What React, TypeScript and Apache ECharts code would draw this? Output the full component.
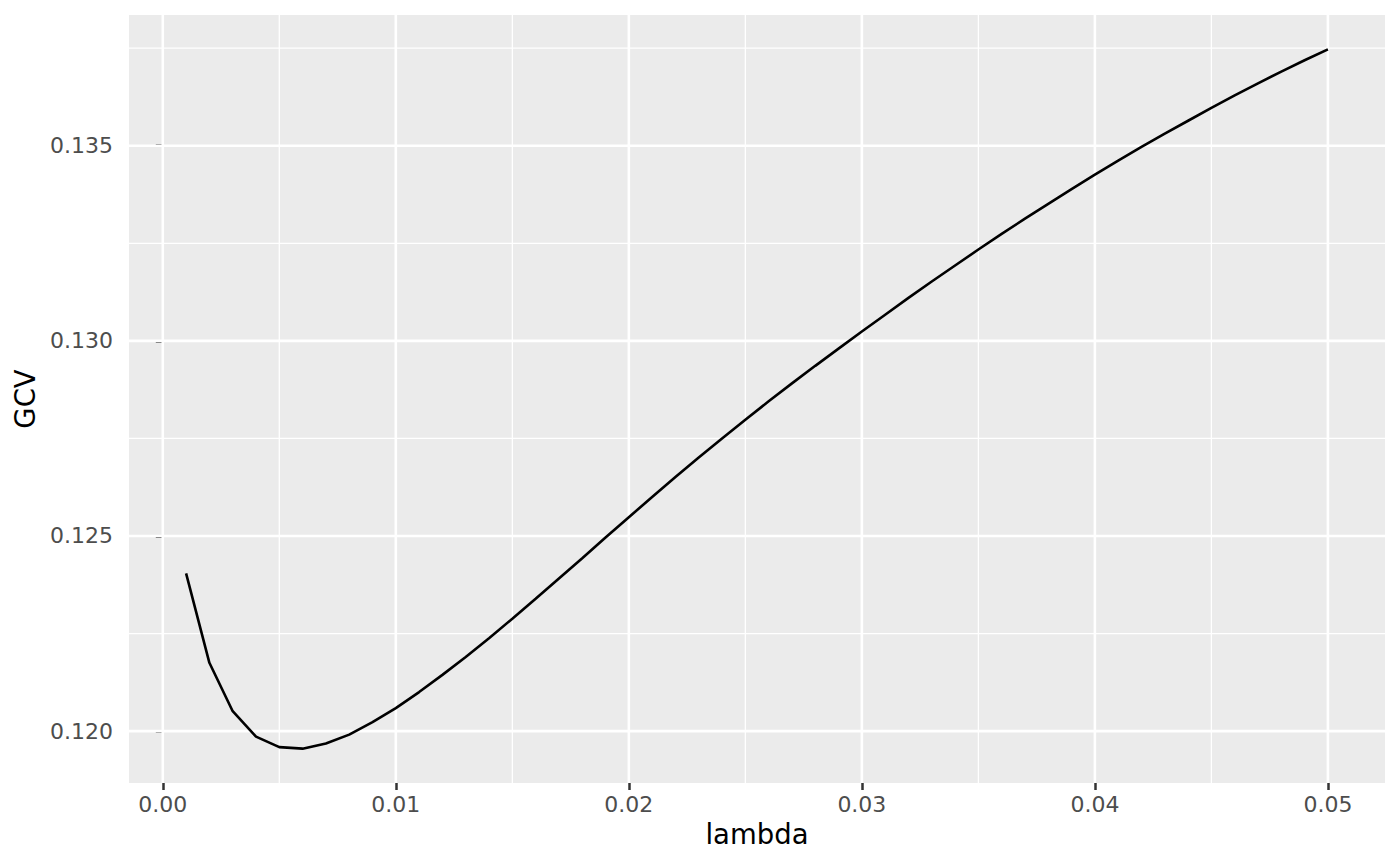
import React, { useEffect, useRef } from "react";
import * as echarts from "echarts";

// GCV score for each smoothing parameter lambda
const lambdas = [
  0.001, 0.002, 0.003, 0.004, 0.005, 0.006, 0.007, 0.008, 0.009, 0.01,
  0.011, 0.012, 0.013, 0.014, 0.015, 0.016, 0.017, 0.018, 0.019, 0.02,
  0.021, 0.022, 0.023, 0.024, 0.025, 0.026, 0.027, 0.028, 0.029, 0.03,
  0.031, 0.032, 0.033, 0.034, 0.035, 0.036, 0.037, 0.038, 0.039, 0.04,
  0.041, 0.042, 0.043, 0.044, 0.045, 0.046, 0.047, 0.048, 0.049, 0.05,
];
const gcv = [
  0.12404, 0.12175, 0.12051, 0.11986, 0.11959, 0.11955, 0.11968, 0.11991, 0.12023, 0.12059,
  0.121, 0.12144, 0.1219, 0.12238, 0.12288, 0.12339, 0.12391, 0.12443, 0.12496, 0.12548,
  0.126, 0.12651, 0.12701, 0.1275, 0.12798, 0.12845, 0.12891, 0.12936, 0.1298, 0.13024,
  0.13067, 0.1311, 0.13152, 0.13193, 0.13234, 0.13274, 0.13313, 0.13351, 0.13389, 0.13426,
  0.13462, 0.13497, 0.13531, 0.13564, 0.13597, 0.13629, 0.1366, 0.1369, 0.13719, 0.13747,
];

const xTicks = [0, 0.01, 0.02, 0.03, 0.04, 0.05];
const xMinor = [0.005, 0.015, 0.025, 0.035, 0.045];
const yTicks = [0.12, 0.125, 0.13, 0.135];
const yMinor = [0.1225, 0.1275, 0.1325, 0.1375];

const X_MIN = -0.00145;
const X_MAX = 0.05245;
const Y_MIN = 0.11867;
const Y_MAX = 0.13835;

const FONT = "DejaVu Sans";

export default function App() {
  const ref = useRef<HTMLDivElement>(null);

  useEffect(() => {
    if (!ref.current) return;
    const chart = echarts.init(ref.current, null, { renderer: "svg" });

    // each panel grid line is a 2-point line series on the axes' scales
    const gridSeries = (data: number[][], width: number, z: number) => ({
      type: "line",
      data,
      z,
      silent: true,
      showSymbol: false,
      symbol: "none",
      lineStyle: { color: "#FFFFFF", width },
    });
    const vLine = (v: number) => [[v, Y_MIN], [v, Y_MAX]];
    const hLine = (v: number) => [[X_MIN, v], [X_MAX, v]];

    chart.setOption({
      animation: false,
      backgroundColor: "#FFFFFF",
      grid: {
        left: 129, right: 15, top: 15, bottom: 83,
        show: true, backgroundColor: "#EBEBEB", borderWidth: 0,
      },
      xAxis: {
        type: "value",
        min: X_MIN,
        max: X_MAX,
        name: "lambda",
        nameLocation: "middle",
        nameGap: 37,
        nameTextStyle: { fontFamily: FONT, fontSize: 27.5, color: "#000000" },
        axisLine: { show: false },
        splitLine: { show: false },
        axisTick: {
          show: true, length: 7, customValues: xTicks,
          lineStyle: { color: "#333333", width: 2.5 },
        },
        axisLabel: {
          customValues: xTicks, margin: 10,
          fontFamily: FONT, fontSize: 22, color: "#4D4D4D",
          formatter: (v: number) => v.toFixed(2),
        },
      },
      yAxis: {
        type: "value",
        min: Y_MIN,
        max: Y_MAX,
        name: "GCV",
        nameLocation: "middle",
        nameGap: 88,
        nameTextStyle: { fontFamily: FONT, fontSize: 27.5, color: "#000000" },
        axisLine: { show: false },
        splitLine: { show: false },
        axisTick: {
          show: true, length: 7, customValues: yTicks,
          lineStyle: { color: "#333333", width: 2.5 },
        },
        axisLabel: {
          customValues: yTicks, margin: 16,
          fontFamily: FONT, fontSize: 22, color: "#4D4D4D",
          formatter: (v: number) => v.toFixed(3),
        },
      },
      series: [
        ...xMinor.map(v => gridSeries(vLine(v), 1.3, 1)),
        ...yMinor.map(v => gridSeries(hLine(v), 1.3, 1)),
        ...xTicks.map(v => gridSeries(vLine(v), 2.6, 2)),
        ...yTicks.map(v => gridSeries(hLine(v), 2.6, 2)),
        {
          type: "line",
          z: 5,
          data: lambdas.map((l, i) => [l, gcv[i]]),
          showSymbol: false,
          symbol: "none",
          lineStyle: { color: "#000000", width: 2.6 },
        },
      ],
    });

    return () => chart.dispose();
  }, []);

  return (
    <div
      ref={ref}
      style={{ position: "absolute", left: 0, top: 0, width: 1400, height: 866 }}
    />
  );
}
